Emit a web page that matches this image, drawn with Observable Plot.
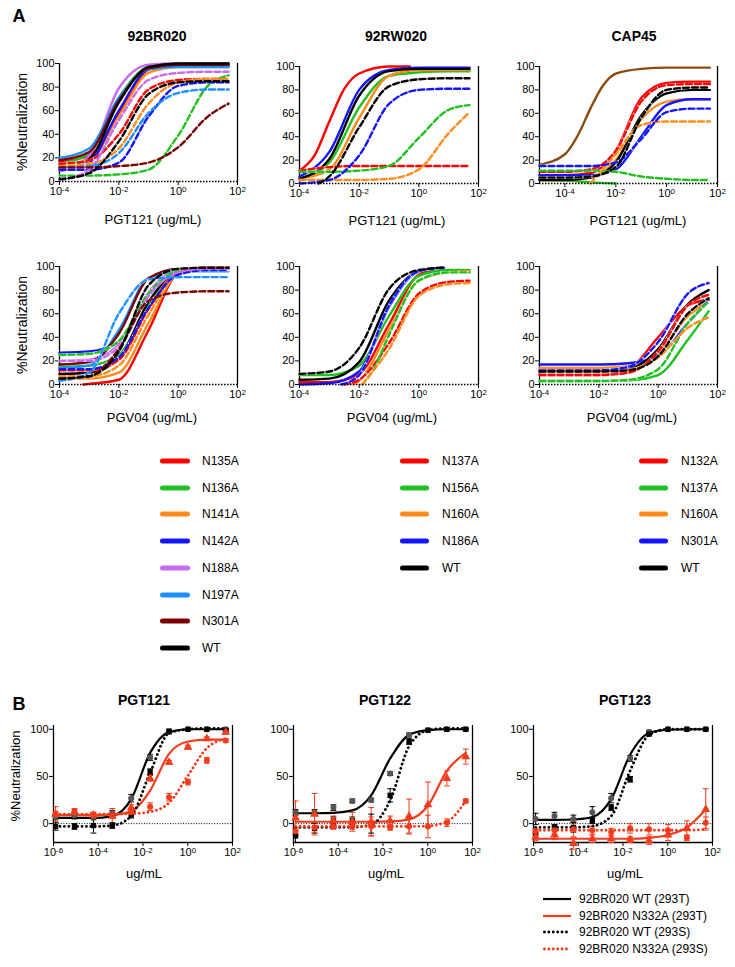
<!DOCTYPE html>
<html><head><meta charset="utf-8">
<script src="https://cdn.jsdelivr.net/npm/d3@7"></script>
<script src="https://cdn.jsdelivr.net/npm/@observablehq/plot@0.6"></script>
<style>
body{margin:0;background:#fff;}
#fig{position:relative;width:735px;height:967px;background:#fff;font-family:"Liberation Sans",Arial,Helvetica,sans-serif;color:#000;overflow:hidden}
.t{position:absolute;transform:translate(-50%,-50%);white-space:nowrap;line-height:1}
.l{position:absolute;transform:translate(0,-50%);white-space:nowrap;line-height:1;font-size:12px}
</style></head><body><div id="fig"></div><script>
const FONT = '"Liberation Sans", Arial, Helvetica, sans-serif';

// ---------- shared axes / doses ----------
const doseA  = [1e-4, 1e-3, 1e-2, 1e-1, 1, 10, 50];
const doseA5 = [1e-5, 1e-4, 1e-3, 1e-2, 1e-1, 1, 10, 50];
const doseB  = [1.24e-6, 8.7e-6, 6.1e-5, 4.25e-4, 2.97e-3, 2.08e-2, 0.146, 1.02, 7.14, 50];
const yTicksA = [0, 20, 40, 60, 80, 100];
const xTicksA = [1e-4, 1e-2, 1, 100];
const yTicksB = [0, 50, 100];
const xTicksB = [1e-6, 1e-4, 1e-2, 1, 100];

// ---------- mutants ----------
const mutsBR020 = ["N135A","N136A","N141A","N142A","N188A","N197A","N301A","WT"];
const mutsRW020 = ["N137A","N156A","N160A","N186A","WT"];
const mutsCAP45 = ["N132A","N137A","N160A","N301A","WT"];

// ---------- 92BR020, PGT121 ----------
const br020_pgt121_solid = [
  ["N135A",[17,22,58,95,100,100,100]],
  ["N136A",[15,24,71,97,100,100,100]],
  ["N141A",[12,17,55,92,97,97,97]],
  ["N142A",[9,16,60,95,99,99,99]],
  ["N188A",[9,22,79,99,100,100,100]],
  ["N197A",[20,28,71,95,97,97,97]],
  ["N301A",[18,25,69,96,99,99,99]],
  ["WT",[11,19,67,97,100,100,100]]
];
const br020_pgt121_dashed = [
  ["N135A",[15,18,40,78,86,87,87]],
  ["N136A",[5,5,6,10,39,81,90]],
  ["N141A",[13,15,28,66,84,87,87]],
  ["N142A",[10,10,16,55,81,84,84]],
  ["N188A",[1,10,52,86,92,93,93]],
  ["N197A",[12,13,24,58,75,78,78]],
  ["N301A",[12,12,13,16,29,55,66]],
  ["WT",[2,7,34,74,84,85,85]]
];
// ---------- 92RW020, PGT121 ----------
const rw020_pgt121_solid = [
  ["N137A",[11,24,53,81,94,100,100],[1e-4,3.2e-4,1e-3,3.2e-3,1e-2,1e-1,0.5]],
  ["N156A",[4,18,65,92,95,96,96]],
  ["N160A",[4,12,56,92,97,97,97]],
  ["N186A",[6,27,80,97,99,99,99]],
  ["WT",[4,21,75,96,98,98,98]]
];
const rw020_pgt121_dashed = [
  ["N137A",[11,14,15,15,15,15,15]],
  ["N156A",[10,10,11,15,39,63,67]],
  ["N160A",[3,3,3,4,12,43,61]],
  ["N186A",[0,3,24,68,80,81,81]],
  ["WT",[0,6,48,83,89,90,90],[4.4e-4,1e-3,1e-2,1e-1,1,10,50]]
];
// ---------- CAP45, PGT121 ----------
const cap45_pgt121_solid = [
  ["other",[16,25,41,64,84,94,98,99,99,99],[1e-5,1e-4,3.2e-4,1e-3,3.2e-3,1e-2,1e-1,1,10,50]],
  ["N132A",[7,7,9,28,73,86,87,87]],
  ["N137A",[3,2.5,1,0],[1e-5,1e-4,1e-3,1e-2]],
  ["N160A",[3,3,5,20,55,70,72,72]],
  ["N301A",[7,7,7,12,40,67,72,72]],
  ["WT",[3,3,5,18,58,77,80,80]]
];
const cap45_pgt121_dashed = [
  ["N132A",[10,10,12,28,70,84,85,85]],
  ["N137A",[11,11,11,10,6,4,3,3]],
  ["N160A",[0,25,50,53,53,53],[1e-3,1e-2,1e-1,1,10,50]],
  ["N301A",[15,15,15,18,38,61,64,64]],
  ["WT",[5,5,6,14,56,80,82,82]]
];
// ---------- 92BR020, PGV04 ----------
const br020_pgv04_solid = [
  ["N135A",[0,0.5,4,46,94,99,99],[6.3e-4,1e-3,1e-2,1e-1,1,10,50]],
  ["N136A",[15,16,25,67,95,99,99]],
  ["N141A",[5,5,10,52,94,99,99]],
  ["N142A",[27,28,36,77,97,99,99]],
  ["N188A",[20,21,34,78,97,99,99]],
  ["N197A",[14,16,46,90,96,96,96]],
  ["N301A",[17,19,43,90,98,98,98]],
  ["WT",[9,10,22,70,96,99,99]]
];
const br020_pgv04_dashed = [
  ["N135A",[12,12,21,64,95,99,99]],
  ["N136A",[25,26,37,77,96,98,98]],
  ["N141A",[7,7,16,59,95,99,99]],
  ["N142A",[13,13,23,65,93,97,97]],
  ["N188A",[20,20,32,75,95,98,98]],
  ["N197A",[3,10,60,89,91,91,91]],
  ["N301A",[5,7,30,71,78,79,79]],
  ["WT",[5,7,28,84,98,99,99]]
];
// ---------- 92RW020, PGV04 ----------
const rw020_pgv04_solid = [
  ["N137A",[2,2,9,51,93,99],[1e-4,1e-3,1e-2,1e-1,1,7]],
  ["N156A",[8,8,16,58,92,97,97]],
  ["N160A",[0,3,46,88,95,96],[6.3e-3,1e-2,1e-1,1,10,50]],
  ["N186A",[0,1,11,66,96,99],[1e-4,1e-3,1e-2,1e-1,1,7]],
  ["WT",[4,5,19,71,96,99],[1e-4,1e-3,1e-2,1e-1,1,7]]
];
const rw020_pgv04_dashed = [
  ["N137A",[0,4,35,77,87,88],[3.2e-3,1e-2,1e-1,1,10,50]],
  ["N156A",[0,14,42,88,95,95],[1.26e-2,3.2e-2,1e-1,1,10,50]],
  ["N160A",[0,30,75,85,86],[1.26e-2,1e-1,1,10,50]],
  ["N186A",[0,8,67,96,99],[2.5e-3,1e-2,1e-1,1,7]],
  ["WT",[9,11,31,81,97,99],[1e-4,1e-3,1e-2,1e-1,1,7]]
];
// ---------- CAP45, PGV04 ----------
const cap45_pgv04_solid = [
  ["N132A",[8,8,8,13,40,67,72]],
  ["N137A",[3,3,3,3.5,8,38,62]],
  ["N160A",[14,14,14,15.5,26,58,70]],
  ["N301A",[17,17,17,18,24,52,71]],
  ["WT",[11,11,11,13,30,68,80]]
];
const cap45_pgv04_dashed = [
  ["N132A",[8,8,8,10,28,67,76]],
  ["N137A",[3,3,3,4,13,52,70]],
  ["N160A",[11,11,11,12.5,23,48,57]],
  ["N301A",[12,12,12,15,36,77,86]],
  ["WT",[11,11,11,12,24,60,73]]
];

// ---------- Panel B (order: WT 293T, N332A 293T, WT 293S, N332A 293S) ----------
const seriesB = ["92BR020 WT (293T)","92BR020 N332A (293T)","92BR020 WT (293S)","92BR020 N332A (293S)"];
const pgt121_fit = [[6,6,6,8,26,75,97,100,100,100],[9,9,9,9.5,13,35,74,87,89,89],[-3,-3,-3,-2,8,54,96,100,101,101],[10,10,10,10,10.5,12.5,22,51,80,90]];
const pgt121_pts = [[7,9,7,11,27,70,97,100,100,100],[10,12,9,8,17,48,65,81,90,97],[-3,-3,-2,-2,9,55,98,100,100,99],[10,12,9,9,12,18,28,44,67,88]];
const pgt121_err = [[3,4,3,3,4,3,2,1,1,1],[8,4,3,8,3,3,2,2,2,2],[4,3,8,3,3,3,2,1,1,1],[3,3,3,3,4,4,4,3,3,2]];
const pgt122_fit = [[11,11,11.5,14,30,69,94,99,100,100],[2,2,2,2,2,2.3,4.5,19,56,75],[-4,-4,-4,-3.8,-1,24.5,82,99,101,101],[-3,-3,-3,-3,-3,-3,-3,-2.5,2,24]];
const pgt122_pts = [[12,12,17,24,25,53,94,99,100,100],[6,10,3,2,2,3,8,20,48,71],[-13,-5,3,3,0,30,87,99,100,100],[-8,-4,-3,-3,-3,-4,-3,-3,1,24]];
const pgt122_err = [[3,3,3,2,2,2,2,1,1,1],[18,22,5,10,15,5,18,24,8,8],[7,5,4,4,10,7,3,1,1,1],[4,5,3,3,10,3,8,12,4,2]];
const pgt123_fit = [[4,4,4.4,7,26,73,96,99.5,100,100],[-16,-16,-16,-16,-16,-16,-15,-12,-4,15],[-4,-4,-4,-2.6,8,56,94,100,100,100],[-7,-7,-7,-7,-7,-7,-7,-7,-7,-6]];
const pgt123_pts = [[5,8,5,12,27,69,97,100,100,100],[-14,-12,-21,-16,-16,-17,-18,-12,-5,15],[-13,-4,-4,3,17,47,95,100,100,100],[-8,-7,-6,-7,-9,-5,-6,-7,-15,1]];
const pgt123_err = [[6,4,4,6,5,3,2,1,1,1],[4,5,6,4,4,3,4,6,8,22],[3,3,5,3,3,3,2,1,1,1],[3,4,8,4,4,5,6,6,3,6]];

// ---------- styles ----------
const colBR020 = ["#ff0000","#1fc11f","#ff8c1a","#1414ff","#c66cf0","#1e8fff","#7d0000","#000000"];
const col5 = ["#ff0000","#1fc11f","#ff8c1a","#1414ff","#000000"];
const brown = "#8b4a12";
const redB = "#f43b1c";

const fig = document.getElementById("fig");
function txt(s, x, y, css, cls) {
  const d = document.createElement("div");
  d.className = cls || "t"; d.textContent = s;
  d.style.left = x + "px"; d.style.top = y + "px";
  Object.assign(d.style, css || {});
  fig.appendChild(d); return d;
}
function supify(svg) {
  svg.querySelectorAll("text").forEach(t => {
    const m = /^10\^(-?\d+)$/.exec(t.textContent);
    if (!m) return;
    t.textContent = "10";
    const ts = document.createElementNS("http://www.w3.org/2000/svg", "tspan");
    ts.setAttribute("dy", "-0.42em"); ts.setAttribute("font-size", "0.72em");
    ts.textContent = m[1];
    t.appendChild(ts);
  });
}
const supFmt = d => "10^" + Math.round(Math.log10(d));
function rowsToData(rows, grid, fit) {
  const out = [];
  rows.forEach(([mut, ys, xs]) => {
    const X = xs || grid;
    ys.forEach((y, i) => { if (y != null) out.push({mut, fit, key: mut + "|" + fit, x: X[i], y}); });
  });
  return out;
}
function place(svg, left, top) {
  svg.style.position = "absolute"; svg.style.left = left + "px"; svg.style.top = top + "px";
  supify(svg); fig.appendChild(svg);
}

function panelA(frame, muts, colors, solidRows, dashedRows, grid, xDomain) {
  const ML = 45, MR = 12, MT = 12, MB = 28;
  const solid = rowsToData(solidRows, grid, "solid");
  const dashed = rowsToData(dashedRows, grid, "dashed");
  const dom = muts.concat(["other"]);
  const rng = colors.concat([brown]);
  const svg = Plot.plot({
    width: frame.right - frame.left + ML + MR,
    height: frame.bottom - frame.top + MT + MB,
    marginLeft: ML, marginRight: MR, marginTop: MT, marginBottom: MB,
    style: {fontFamily: FONT, fontSize: "11px", background: "transparent", overflow: "visible"},
    x: {type: "log", domain: xDomain, ticks: xTicksA, tickFormat: supFmt, tickSize: 4, tickPadding: 2, label: null},
    y: {domain: [0, 100], ticks: yTicksA, tickSize: 4, tickPadding: 1, label: null},
    color: {domain: dom, range: rng},
    marks: [
      Plot.ruleX([xDomain[0]], {strokeWidth: 1.3}),
      Plot.ruleX([xDomain[1]], {strokeWidth: 1.3}),
      Plot.line(solid, {x: "x", y: "y", z: "key", stroke: "mut", strokeWidth: 2.4, curve: "monotone-x"}),
      Plot.line(dashed, {x: "x", y: "y", z: "key", stroke: "white", strokeWidth: 2.4, curve: "monotone-x"}),
      Plot.line(dashed, {x: "x", y: "y", z: "key", stroke: "mut", strokeWidth: 2.4, strokeDasharray: "6,3", curve: "monotone-x"}),
      Plot.ruleY([0], {strokeDasharray: "1.5,1.5", strokeWidth: 1.5})
    ]
  });
  place(svg, frame.left - ML, frame.top - MT);
}

const capSym = {draw(ctx, size) { const w = Math.sqrt(size) * 0.55; ctx.moveTo(-w, 0); ctx.lineTo(w, 0); }};
function panelB(frame, fit, pts, err) {
  const ML = 45, MR = 12, MT = 12, MB = 28;
  const lines = [], points = [];
  seriesB.forEach((s, i) => doseB.forEach((x, j) => {
    lines.push({s, x, y: fit[i][j]});
    points.push({s, x, y: pts[i][j], e: err[i][j]});
  }));
  const P = k => points.filter(d => d.s === seriesB[k]);
  const svg = Plot.plot({
    width: frame.right - frame.left + ML + MR,
    height: frame.bottom - frame.top + MT + MB,
    marginLeft: ML, marginRight: MR, marginTop: MT, marginBottom: MB,
    style: {fontFamily: FONT, fontSize: "11px", background: "transparent", overflow: "visible"},
    x: {type: "log", domain: [1e-6, 100], ticks: xTicksB, tickFormat: supFmt, tickSize: 4, tickPadding: 2, label: null},
    y: {domain: [-20, 104], ticks: yTicksB, tickSize: 4, tickPadding: 1, label: null},
    color: {domain: seriesB, range: ["#000000", redB, "#000000", redB]},
    marks: [
      Plot.ruleY([0], {strokeDasharray: "1,1.6", strokeWidth: 1}),
      Plot.ruleX([1e-6], {strokeWidth: 1.3}),
      Plot.ruleX([100], {strokeWidth: 1.3}),
      Plot.ruleY([-20], {strokeWidth: 1.3}),
      Plot.ruleX(points, {x: "x", y1: d => d.y - d.e, y2: d => d.y + d.e, stroke: "s", strokeWidth: 1}),
      Plot.dot(points, {x: "x", y: d => d.y + d.e, symbol: capSym, r: 3, stroke: "s", strokeWidth: 1, fill: "none"}),
      Plot.dot(points, {x: "x", y: d => d.y - d.e, symbol: capSym, r: 3, stroke: "s", strokeWidth: 1, fill: "none"}),
      Plot.line(lines.filter(d => d.s.includes("293T")), {x: "x", y: "y", z: "s", stroke: "s", strokeWidth: 2.2, curve: "monotone-x"}),
      Plot.line(lines.filter(d => d.s.includes("293S")), {x: "x", y: "y", z: "s", stroke: "s", strokeWidth: 2.8, strokeDasharray: "0.1,4.3", strokeLinecap: "round", curve: "monotone-x"}),
      Plot.dot(P(0), {x: "x", y: "y", symbol: "circle", r: 3, fill: "#555555"}),
      Plot.dot(P(2), {x: "x", y: "y", symbol: "square", r: 3, fill: "#000000"}),
      Plot.dot(P(1), {x: "x", y: "y", symbol: "triangle", r: 3.3, fill: redB}),
      Plot.dot(P(3), {x: "x", y: "y", symbol: "circle", r: 3, fill: redB})
    ]
  });
  place(svg, frame.left - ML, frame.top - MT);
}

// ---------- Panel A ----------
panelA({left: 59, right: 237, top: 63, bottom: 181}, mutsBR020, colBR020, br020_pgt121_solid, br020_pgt121_dashed, doseA, [1e-4, 100]);
panelA({left: 299, right: 478, top: 66, bottom: 183}, mutsRW020, col5, rw020_pgt121_solid, rw020_pgt121_dashed, doseA, [1e-4, 100]);
panelA({left: 539, right: 717, top: 66, bottom: 183}, mutsCAP45, col5, cap45_pgt121_solid, cap45_pgt121_dashed, doseA5, [1e-5, 100]);
panelA({left: 59, right: 237, top: 266, bottom: 384}, mutsBR020, colBR020, br020_pgv04_solid, br020_pgv04_dashed, doseA, [1e-4, 100]);
panelA({left: 299, right: 478, top: 266, bottom: 384}, mutsRW020, col5, rw020_pgv04_solid, rw020_pgv04_dashed, doseA, [1e-4, 100]);
panelA({left: 539, right: 717, top: 266, bottom: 384}, mutsCAP45, col5, cap45_pgv04_solid, cap45_pgv04_dashed, doseA, [1e-4, 100]);

// ---------- Panel B ----------
panelB({left: 53, right: 232, top: 725, bottom: 842}, pgt121_fit, pgt121_pts, pgt121_err);
panelB({left: 293, right: 472, top: 725, bottom: 842}, pgt122_fit, pgt122_pts, pgt122_err);
panelB({left: 533, right: 712, top: 725, bottom: 842}, pgt123_fit, pgt123_pts, pgt123_err);

// ---------- text ----------
const bold = {fontWeight: "bold"};
txt("A", 19, 16, {fontWeight: "bold", fontSize: "18px"});
txt("B", 19, 704, {fontWeight: "bold", fontSize: "18px"});
txt("92BR020", 157, 36, Object.assign({fontSize: "14px"}, bold));
txt("92RW020", 396, 36, Object.assign({fontSize: "14px"}, bold));
txt("CAP45", 634, 36, Object.assign({fontSize: "14px"}, bold));
txt("PGT121 (ug/mL)", 153, 219, {fontSize: "13px"});
txt("PGT121 (ug/mL)", 397, 220, {fontSize: "13px"});
txt("PGT121 (ug/mL)", 638, 220, {fontSize: "13px"});
txt("PGV04 (ug/mL)", 152, 417, {fontSize: "13px"});
txt("PGV04 (ug/mL)", 392, 417, {fontSize: "13px"});
txt("PGV04 (ug/mL)", 632, 417, {fontSize: "13px"});
const rot = {fontSize: "14px", transform: "translate(-50%,-50%) rotate(-90deg)"};
txt("%Neutralization", 22, 122, rot);
txt("%Neutralization", 22, 325, rot);
txt("%Neutralization", 15, 776, Object.assign({}, rot, {fontSize: "13px"}));
txt("PGT121", 144, 700, Object.assign({fontSize: "14px"}, bold));
txt("PGT122", 385, 700, Object.assign({fontSize: "14px"}, bold));
txt("PGT123", 625, 700, Object.assign({fontSize: "14px"}, bold));
txt("ug/mL", 144, 873, {fontSize: "13px"});
txt("ug/mL", 386, 873, {fontSize: "13px"});
txt("ug/mL", 625, 873, {fontSize: "13px"});

// ---------- legends ----------
function swatch(x1, x2, y, color, width, dash, cap) {
  const ns = "http://www.w3.org/2000/svg";
  const s = document.createElementNS(ns, "svg");
  s.setAttribute("width", x2 - x1 + 8); s.setAttribute("height", 12);
  s.style.position = "absolute"; s.style.left = (x1 - 4) + "px"; s.style.top = (y - 6) + "px";
  const l = document.createElementNS(ns, "line");
  l.setAttribute("x1", 4 + (cap === "round" ? width / 2 : 0)); l.setAttribute("x2", x2 - x1 + 4 - (cap === "round" ? width / 2 : 0));
  l.setAttribute("y1", 6); l.setAttribute("y2", 6);
  l.setAttribute("stroke", color); l.setAttribute("stroke-width", width);
  l.setAttribute("stroke-linecap", cap || "butt");
  if (dash) l.setAttribute("stroke-dasharray", dash);
  s.appendChild(l); fig.appendChild(s);
}
function legendA(muts, colors, sx1, sx2, tx) {
  muts.forEach((m, i) => {
    const y = 461 + i * 26.7;
    swatch(sx1, sx2, y, colors[i], 5, null, "round");
    txt(m, tx, y, {}, "l");
  });
}
legendA(mutsBR020, colBR020, 160, 190, 202);
legendA(mutsRW020, col5, 400, 429, 442);
legendA(mutsCAP45, col5, 639, 668, 681);

const legBy = [899, 915.5, 932, 948.5];
const legBcol = ["#000000", redB, "#000000", redB];
seriesB.forEach((s, i) => {
  if (i < 2) swatch(543, 571, legBy[i], legBcol[i], 2.2, null, "butt");
  else swatch(543, 571, legBy[i], legBcol[i], 2.8, "0.1,4.3", "round");
  txt(s, 579, legBy[i], {}, "l");
});
</script></body></html>
